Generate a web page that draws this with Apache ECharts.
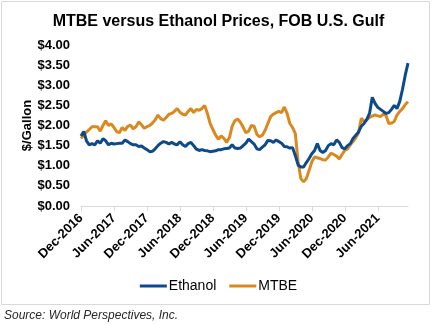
<!DOCTYPE html>
<html>
<head>
<meta charset="utf-8">
<script src="https://cdn.jsdelivr.net/npm/echarts@6/dist/echarts.min.js"></script>
<style>
  html, body { margin: 0; padding: 0; background: #fff; }
  #chart { width: 437px; height: 325px; }
</style>
</head>
<body>
<div id="chart"></div>
<script>
// Semi-monthly price observations, Dec 2016 through Nov 2021 ($/gallon)
const startYear = 2016;
const startMonth = 12;          // December
const periodCount = 120;        // two observations per month
const monthNames = ['Jan','Feb','Mar','Apr','May','Jun','Jul','Aug','Sep','Oct','Nov','Dec'];

const ethanol = [
  1.74, 1.85, 1.62, 1.52, 1.55, 1.52, 1.62, 1.56, 1.67, 1.62,
  1.52, 1.56, 1.54, 1.55, 1.56, 1.56, 1.64, 1.60, 1.55, 1.52,
  1.52, 1.48, 1.49, 1.44, 1.40, 1.35, 1.36, 1.42, 1.50, 1.56,
  1.60, 1.58, 1.54, 1.58, 1.54, 1.52, 1.60, 1.52, 1.48, 1.55,
  1.58, 1.50, 1.41, 1.38, 1.40, 1.38, 1.37, 1.35, 1.36, 1.37,
  1.40, 1.40, 1.42, 1.43, 1.44, 1.52, 1.44, 1.43, 1.44, 1.50,
  1.56, 1.66, 1.60, 1.54, 1.42, 1.40, 1.46, 1.52, 1.63, 1.62,
  1.58, 1.64, 1.60, 1.56, 1.48, 1.47, 1.44, 1.45, 1.25, 1.02,
  0.97, 0.97, 1.08, 1.18, 1.30, 1.38, 1.55, 1.38, 1.33, 1.38,
  1.50, 1.55, 1.52, 1.64, 1.58, 1.45, 1.42, 1.50, 1.55, 1.68,
  1.76, 1.84, 1.98, 2.05, 2.15, 2.30, 2.70, 2.55, 2.45, 2.40,
  2.35, 2.30, 2.32, 2.40, 2.50, 2.42, 2.60, 2.90, 3.25, 3.55
];

const mtbe = [
  1.68, 1.76, 1.84, 1.90, 1.97, 1.97, 1.97, 1.86, 2.00, 2.12,
  2.00, 2.04, 1.95, 1.85, 1.82, 1.95, 1.88, 1.98, 2.01, 1.92,
  1.97, 2.09, 2.02, 1.93, 1.97, 2.00, 2.06, 2.14, 2.26, 2.17,
  2.13, 2.20, 2.28, 2.30, 2.35, 2.42, 2.33, 2.28, 2.26, 2.35,
  2.42, 2.32, 2.40, 2.38, 2.42, 2.50, 2.30, 2.05, 1.90, 1.76,
  1.66, 1.74, 1.68, 1.58, 1.70, 1.98, 2.12, 2.16, 2.08, 1.96,
  1.82, 1.86, 2.00, 1.98, 1.78, 1.72, 1.76, 1.88, 2.05, 2.22,
  2.28, 2.32, 2.35, 2.32, 2.46, 2.30, 2.05, 1.95, 1.80, 1.10,
  0.68, 0.60, 0.68, 0.88, 1.10, 1.22, 1.20, 1.18, 1.15, 1.14,
  1.22, 1.31, 1.28, 1.24, 1.17, 1.28, 1.38, 1.42, 1.52, 1.60,
  1.70, 1.82, 2.18, 2.10, 2.14, 2.20, 2.24, 2.26, 2.24, 2.22,
  2.28, 2.25, 2.05, 2.06, 2.10, 2.26, 2.35, 2.42, 2.52, 2.59
];

const yTicks = [0, 0.5, 1, 1.5, 2, 2.5, 3, 3.5, 4];

// Category list: 1st and 15th of each month
const periods = [];
for (let i = 0; i < periodCount; i++) {
  const m = startMonth - 1 + Math.floor(i / 2);
  const year = startYear + Math.floor(m / 12);
  const month = (m % 12) + 1;
  const day = i % 2 === 0 ? '01' : '15';
  periods.push(year + '-' + String(month).padStart(2, '0') + '-' + day);
}

function periodLabel(p) {
  const [y, m] = p.split('-');
  return monthNames[parseInt(m, 10) - 1] + '-' + y;
}

const FONT = 'Liberation Sans, Arial, sans-serif';
const chart = echarts.init(document.getElementById('chart'), null, { renderer: 'canvas' });

chart.setOption({
  animation: false,
  backgroundColor: '#ffffff',
  title: {
    text: 'MTBE versus Ethanol Prices, FOB U.S. Gulf',
    left: 'center',
    top: 9,
    textStyle: { fontFamily: FONT, fontWeight: 'bold', fontSize: 16, color: '#000' }
  },
  legend: {
    bottom: 27,
    left: 'center',
    itemWidth: 27,
    itemHeight: 3,
    itemGap: 13,
    icon: 'rect',
    textStyle: { fontFamily: FONT, fontWeight: 'normal', fontSize: 14, color: '#000', padding: [0, 0, 0, -3] },
    data: ['Ethanol', 'MTBE']
  },
  grid: { left: 81, right: 29, top: 45, bottom: 119, containLabel: false },
  xAxis: {
    type: 'category',
    data: periods,
    boundaryGap: false,
    axisLine: { lineStyle: { color: '#d9d9d9', width: 1 } },
    axisTick: { show: true, interval: 11, length: 5, lineStyle: { color: '#d9d9d9' } },
    axisLabel: {
      interval: 11,
      rotate: 45,
      margin: 10,
      fontFamily: FONT,
      fontWeight: 'bold',
      fontSize: 13,
      color: '#000',
      formatter: periodLabel
    },
    splitLine: { show: false }
  },
  yAxis: {
    type: 'value',
    min: yTicks[0],
    max: yTicks[yTicks.length - 1],
    interval: 0.5,
    name: '$/Gallon',
    nameLocation: 'middle',
    nameGap: 47,
    nameMoveOverlap: false,
    nameTextStyle: { fontFamily: FONT, fontWeight: 'bold', fontSize: 13, color: '#000' },
    axisLine: { show: false },
    axisTick: { show: false },
    splitLine: { show: false },
    axisLabel: {
      margin: 11,
      fontFamily: FONT,
      fontWeight: 'bold',
      fontSize: 13,
      color: '#000',
      formatter: v => '$' + v.toFixed(2)
    }
  },
  series: [
    {
      name: 'Ethanol',
      type: 'line',
      data: ethanol,
      showSymbol: false,
      symbol: 'none',
      lineStyle: { color: '#0C4A8C', width: 3 },
      itemStyle: { color: '#0C4A8C' },
      z: 3
    },
    {
      name: 'MTBE',
      type: 'line',
      data: mtbe,
      showSymbol: false,
      symbol: 'none',
      lineStyle: { color: '#D9891E', width: 3 },
      itemStyle: { color: '#D9891E' },
      z: 2
    }
  ],
  graphic: [
    {
      type: 'rect',
      shape: { x: 1.5, y: 1.5, width: 428, height: 303 },
      style: { fill: 'none', stroke: '#d9d9d9', lineWidth: 1 },
      silent: true
    },
    {
      type: 'text',
      left: 4,
      top: 310,
      style: {
        text: 'Source: World Perspectives, Inc.',
        fontFamily: FONT,
        fontStyle: 'italic',
        fontSize: 12,
        fill: '#262626'
      }
    }
  ]
});
</script>
</body>
</html>
